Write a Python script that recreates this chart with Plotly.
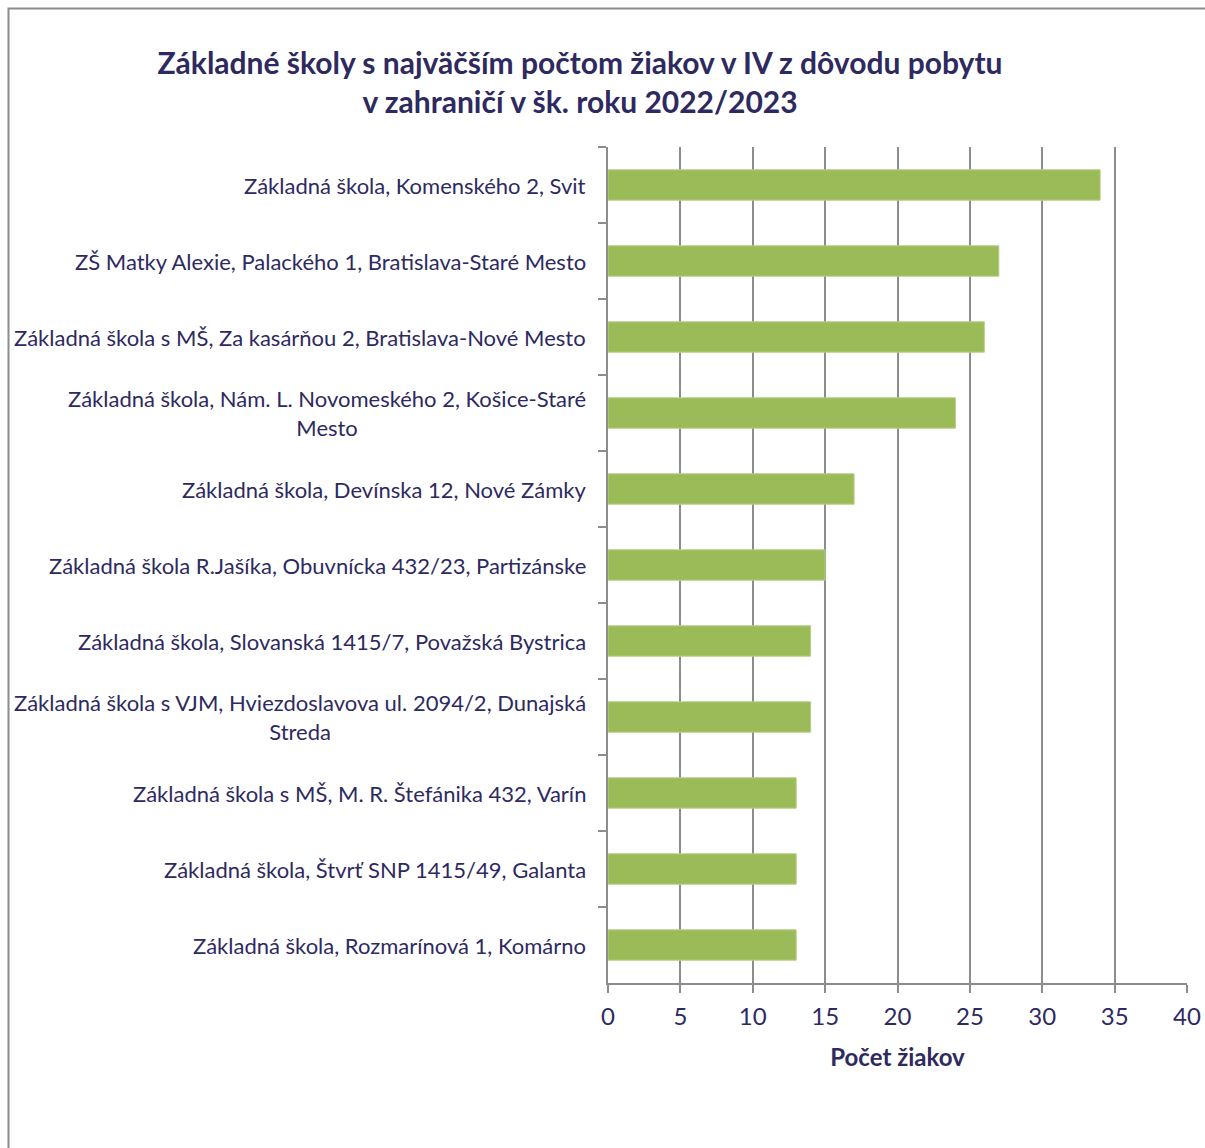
import plotly.graph_objects as go

schools = [
    "Základná škola, Komenského 2, Svit",
    "ZŠ Matky Alexie, Palackého 1, Bratislava-Staré Mesto",
    "Základná škola s MŠ, Za kasárňou 2, Bratislava-Nové Mesto",
    "Základná škola, Nám. L. Novomeského 2, Košice-Staré<br>Mesto",
    "Základná škola, Devínska 12, Nové Zámky",
    "Základná škola R.Jašíka, Obuvnícka 432/23, Partizánske",
    "Základná škola, Slovanská 1415/7, Považská Bystrica",
    "Základná škola s VJM, Hviezdoslavova ul. 2094/2, Dunajská<br>Streda",
    "Základná škola s MŠ, M. R. Štefánika 432, Varín",
    "Základná škola, Štvrť SNP 1415/49, Galanta",
    "Základná škola, Rozmarínová 1, Komárno",
]
students = [34, 27, 26, 24, 17, 15, 14, 14, 13, 13, 13]
x_ticks = [0, 5, 10, 15, 20, 25, 30, 35, 40]

title_text = ("Základné školy s najväčším počtom žiakov v IV z dôvodu pobytu"
              "<br>v zahraničí v šk. roku 2022/2023")
x_title = "Počet žiakov"

TXT = "#2E2A5F"
GRID = "#8C8C8C"
FONT = "Lato"

W, H = 1205, 1148
L, T = 608, 147
pw, ph = 579, 836
R = W - L - pw
B = H - T - ph

fig = go.Figure()
fig.add_trace(go.Bar(
    x=students, y=schools, orientation="h",
    marker=dict(color="#9BBB59", line=dict(color="#B5CF86", width=1)),
    width=0.4,
))

for s in schools:
    fig.add_annotation(
        x=0, xref="paper", y=s, yref="y", text=s, showarrow=False,
        xanchor="right", yanchor="middle", align="center", xshift=-20,
        font=dict(family=FONT, size=22, color=TXT),
    )

# outer frame (left and top edges)
fx0 = (8.5 - L) / pw
fy_top = 1 + (T - 8.5) / ph
fy_bot = -(B + 10) / ph
fx1 = 1 + (R + 10) / pw
fig.add_shape(type="path", xref="paper", yref="paper",
              path=f"M {fx0} {fy_bot} L {fx0} {fy_top} L {fx1} {fy_top}",
              line=dict(color="#8C8C8C", width=2))

fig.update_layout(
    width=W, height=H,
    margin=dict(l=L, r=R, t=T, b=B, pad=0, autoexpand=False),
    paper_bgcolor="white", plot_bgcolor="white",
    showlegend=False,
    title=dict(text=f"<b>{title_text}</b>", x=580 / W, xref="container",
               xanchor="center", y=1 - 74 / H, yref="container", yanchor="middle",
               font=dict(family=FONT, size=30, color=TXT)),
    xaxis=dict(
        range=[0, 40], tickvals=x_ticks, showgrid=True, gridcolor=GRID, gridwidth=2,
        showline=True, linecolor=GRID, linewidth=2, automargin=False,
        ticks="outside", ticklen=8, tickcolor=GRID, tickwidth=2,
        tickfont=dict(family=FONT, size=24, color=TXT), ticklabelstandoff=3,
        title=dict(text=f"<b>{x_title}</b>", standoff=20,
                   font=dict(family=FONT, size=24, color=TXT)),
        zeroline=False, fixedrange=True,
    ),
    yaxis=dict(
        autorange="reversed", categoryorder="array", categoryarray=schools,
        showticklabels=False, showline=True, linecolor=GRID, linewidth=2,
        ticks="outside", ticklen=8, tickcolor=GRID, tickwidth=2, automargin=False,
        tickson="boundaries", showgrid=False, fixedrange=True,
    ),
)

fig.write_html(
    "out.html",
    config={"displayModeBar": False},
    post_script="document.body.style.margin='0';document.body.style.overflow='hidden';",
)
